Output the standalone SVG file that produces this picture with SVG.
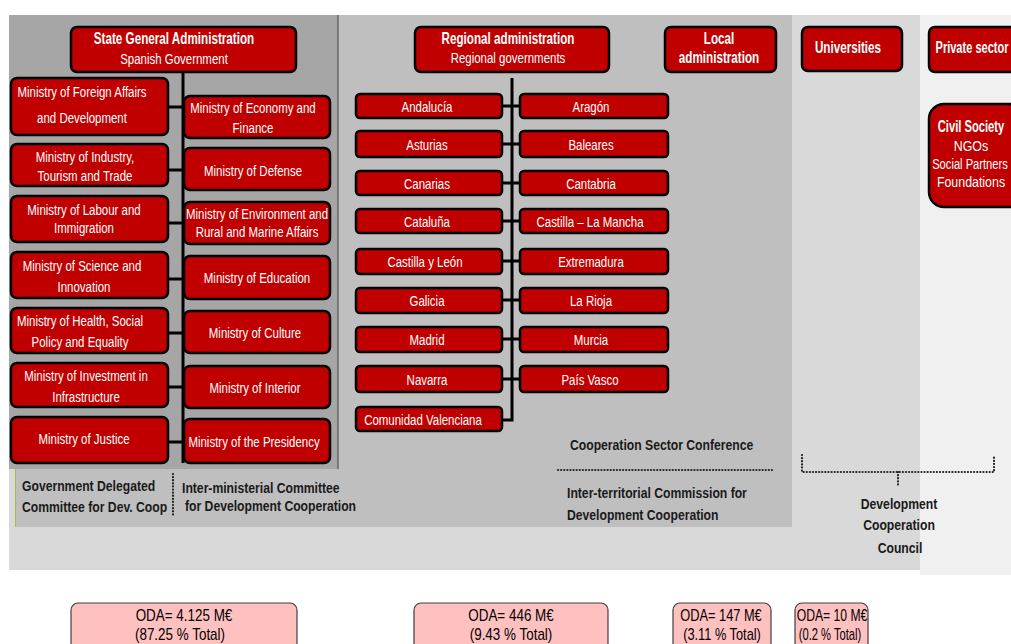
<svg xmlns="http://www.w3.org/2000/svg" width="1011" height="644" viewBox="0 0 1011 644">
<style>
.box{fill:#c00000;stroke:#000;stroke-width:2.5}
.oda{fill:#ffc0c0;stroke:#404040;stroke-width:1.2}
.t{font-family:"Liberation Sans Narrow","Liberation Sans",Arial,sans-serif;font-size:15.5px;fill:#fff;text-anchor:middle}
.h{font-family:"Liberation Sans Narrow","Liberation Sans",Arial,sans-serif;font-size:16px;font-weight:bold;fill:#fff;text-anchor:middle}
.b{font-family:"Liberation Sans",Arial,sans-serif;font-size:14px;font-weight:bold;fill:#1a1a1a}
.o{font-family:"Liberation Sans",Arial,sans-serif;font-size:16px;fill:#000;text-anchor:middle}
.ln{stroke:#000;stroke-width:3;fill:none}
.dot{stroke:#222;stroke-width:2.2;stroke-dasharray:0.1 3;stroke-linecap:round;fill:none}
</style>
<rect x="0" y="0" width="1011" height="644" fill="#fff"/>
<!-- backgrounds -->
<rect x="920" y="15" width="91" height="560" fill="#f0f0f0"/>
<rect x="9" y="15" width="911" height="555" fill="#d9d9d9"/>
<rect x="15" y="15" width="777" height="512" fill="#bfbfbf"/>
<rect x="9" y="15" width="329" height="454" fill="#a6a6a6"/>
<line x1="338" y1="15" x2="338" y2="469" stroke="#404040" stroke-width="1"/>
<line x1="15.5" y1="469" x2="15.5" y2="527" stroke="#a0c040" stroke-width="1"/>

<!-- connectors -->
<g id="connectors">
<line class="ln" x1="183" y1="72" x2="183" y2="463"/>
<line class="ln" x1="168" y1="107" x2="183" y2="107"/>
<line class="ln" x1="168" y1="170" x2="183" y2="170"/>
<line class="ln" x1="168" y1="223" x2="183" y2="223"/>
<line class="ln" x1="168" y1="279" x2="183" y2="279"/>
<line class="ln" x1="168" y1="333" x2="183" y2="333"/>
<line class="ln" x1="168" y1="387" x2="183" y2="387"/>
<line class="ln" x1="168" y1="442" x2="183" y2="442"/>
<path class="ln" d="M512 78 V420 H502"/>
<line class="ln" x1="502" y1="106" x2="520" y2="106"/>
<line class="ln" x1="502" y1="144" x2="520" y2="144"/>
<line class="ln" x1="502" y1="183" x2="520" y2="183"/>
<line class="ln" x1="502" y1="221" x2="520" y2="221"/>
<line class="ln" x1="502" y1="261" x2="520" y2="261"/>
<line class="ln" x1="502" y1="300" x2="520" y2="300"/>
<line class="ln" x1="502" y1="339" x2="520" y2="339"/>
<line class="ln" x1="502" y1="379" x2="520" y2="379"/>
<line class="dot" x1="173" y1="474" x2="173" y2="515"/>
<line class="dot" x1="558" y1="470" x2="772" y2="470"/>
<path class="dot" d="M802 455 V472 H994 V455 M898 472 V486"/>
</g>

<!-- State -->
<g id="state"><rect class="box" x="71" y="27" width="225" height="45" rx="6"/><text class="h" transform="translate(174,44) scale(0.73,1)">State General Administration</text><text class="t" transform="translate(174,64) scale(0.74,1)">Spanish Government</text></g>
<g id="m-foreign"><rect class="box" x="11" y="78" width="157" height="57" rx="6"/><text class="t" transform="translate(82,97) scale(0.74,1)">Ministry of Foreign Affairs</text><text class="t" transform="translate(82,123) scale(0.74,1)">and Development</text></g>
<g id="m-industry"><rect class="box" x="11" y="144" width="157" height="42" rx="6"/><text class="t" transform="translate(85,162) scale(0.74,1)">Ministry of Industry,</text><text class="t" transform="translate(85,181) scale(0.74,1)">Tourism and Trade</text></g>
<g id="m-labour"><rect class="box" x="11" y="196" width="157" height="46" rx="6"/><text class="t" transform="translate(84,215) scale(0.74,1)">Ministry of Labour and</text><text class="t" transform="translate(84,233) scale(0.74,1)">Immigration</text></g>
<g id="m-science"><rect class="box" x="11" y="252" width="157" height="46" rx="6"/><text class="t" transform="translate(82,271) scale(0.74,1)">Ministry of Science  and</text><text class="t" transform="translate(84,292) scale(0.74,1)">Innovation</text></g>
<g id="m-health"><rect class="box" x="11" y="308" width="157" height="45" rx="6"/><text class="t" transform="translate(80,326) scale(0.74,1)">Ministry of Health, Social</text><text class="t" transform="translate(80,347) scale(0.74,1)">Policy and Equality</text></g>
<g id="m-investment"><rect class="box" x="11" y="363" width="157" height="44" rx="6"/><text class="t" transform="translate(86,381) scale(0.74,1)">Ministry of Investment  in</text><text class="t" transform="translate(86,402) scale(0.74,1)">Infrastructure</text></g>
<g id="m-justice"><rect class="box" x="11" y="417" width="157" height="46" rx="6"/><text class="t" transform="translate(84,444) scale(0.74,1)">Ministry of Justice</text></g>
<g id="m-economy"><rect class="box" x="184" y="96" width="146" height="42" rx="6"/><text class="t" transform="translate(253,113) scale(0.74,1)">Ministry of Economy and</text><text class="t" transform="translate(253,133) scale(0.74,1)">Finance</text></g>
<g id="m-defense"><rect class="box" x="184" y="148" width="146" height="42" rx="6"/><text class="t" transform="translate(253,176) scale(0.74,1)">Ministry of Defense</text></g>
<g id="m-environment"><rect class="box" x="184" y="202" width="146" height="42" rx="6"/><text class="t" transform="translate(257,219) scale(0.74,1)">Ministry of Environment  and</text><text class="t" transform="translate(257,237) scale(0.74,1)">Rural and Marine Affairs</text></g>
<g id="m-education"><rect class="box" x="184" y="256" width="146" height="43" rx="6"/><text class="t" transform="translate(257,283) scale(0.74,1)">Ministry of Education</text></g>
<g id="m-culture"><rect class="box" x="184" y="311" width="146" height="42" rx="6"/><text class="t" transform="translate(255,338) scale(0.74,1)">Ministry of Culture</text></g>
<g id="m-interior"><rect class="box" x="184" y="366" width="146" height="42" rx="6"/><text class="t" transform="translate(255,393) scale(0.74,1)">Ministry of Interior</text></g>
<g id="m-presidency"><rect class="box" x="184" y="419" width="146" height="44" rx="6"/><text class="t" transform="translate(254,447) scale(0.74,1)">Ministry of the  Presidency</text></g>

<!-- Regional -->
<g id="regional"><rect class="box" x="415" y="27" width="194" height="45" rx="6"/><text class="h" transform="translate(508,44) scale(0.73,1)">Regional administration</text><text class="t" transform="translate(508,63) scale(0.74,1)">Regional governments</text></g>
<g id="local"><rect class="box" x="665" y="27" width="111" height="45" rx="6"/><text class="h" transform="translate(719,44) scale(0.73,1)">Local</text><text class="h" transform="translate(719,63) scale(0.73,1)">administration</text></g>
<g id="r-andalucia"><rect class="box" x="356" y="94" width="146" height="24" rx="4"/><text class="t" transform="translate(427,112) scale(0.74,1)">Andalucía</text></g>
<g id="r-asturias"><rect class="box" x="356" y="131" width="146" height="26" rx="4"/><text class="t" transform="translate(427,150) scale(0.74,1)">Asturias</text></g>
<g id="r-canarias"><rect class="box" x="356" y="171" width="146" height="24" rx="4"/><text class="t" transform="translate(427,189) scale(0.74,1)">Canarias</text></g>
<g id="r-cataluna"><rect class="box" x="356" y="209" width="146" height="24" rx="4"/><text class="t" transform="translate(427,227) scale(0.74,1)">Cataluña</text></g>
<g id="r-castillaleon"><rect class="box" x="356" y="249" width="146" height="25" rx="4"/><text class="t" transform="translate(425,267) scale(0.74,1)">Castilla  y León</text></g>
<g id="r-galicia"><rect class="box" x="356" y="288" width="146" height="25" rx="4"/><text class="t" transform="translate(427,306) scale(0.74,1)">Galicia</text></g>
<g id="r-madrid"><rect class="box" x="356" y="327" width="146" height="25" rx="4"/><text class="t" transform="translate(427,345) scale(0.74,1)">Madrid</text></g>
<g id="r-navarra"><rect class="box" x="356" y="366" width="146" height="26" rx="4"/><text class="t" transform="translate(427,385) scale(0.74,1)">Navarra</text></g>
<g id="r-valenciana"><rect class="box" x="356" y="407" width="146" height="24" rx="4"/><text class="t" transform="translate(423,425) scale(0.74,1)">Comunidad Valenciana</text></g>
<g id="r-aragon"><rect class="box" x="520" y="94" width="148" height="24" rx="4"/><text class="t" transform="translate(591,112) scale(0.74,1)">Aragón</text></g>
<g id="r-baleares"><rect class="box" x="520" y="131" width="148" height="26" rx="4"/><text class="t" transform="translate(591,150) scale(0.74,1)">Baleares</text></g>
<g id="r-cantabria"><rect class="box" x="520" y="171" width="148" height="24" rx="4"/><text class="t" transform="translate(591,189) scale(0.74,1)">Cantabria</text></g>
<g id="r-castillamancha"><rect class="box" x="520" y="209" width="148" height="24" rx="4"/><text class="t" transform="translate(590,227) scale(0.74,1)">Castilla  – La Mancha</text></g>
<g id="r-extremadura"><rect class="box" x="520" y="249" width="148" height="25" rx="4"/><text class="t" transform="translate(591,267) scale(0.74,1)">Extremadura</text></g>
<g id="r-larioja"><rect class="box" x="520" y="288" width="148" height="25" rx="4"/><text class="t" transform="translate(591,306) scale(0.74,1)">La Rioja</text></g>
<g id="r-murcia"><rect class="box" x="520" y="327" width="148" height="25" rx="4"/><text class="t" transform="translate(591,345) scale(0.74,1)">Murcia</text></g>
<g id="r-paisvasco"><rect class="box" x="520" y="366" width="148" height="26" rx="4"/><text class="t" transform="translate(590,385) scale(0.74,1)">País Vasco</text></g>

<!-- Others -->
<g id="universities"><rect class="box" x="802" y="27" width="100" height="44" rx="6"/><text class="h" transform="translate(848,53) scale(0.73,1)">Universities</text></g>
<g id="private"><rect class="box" x="929" y="27" width="95" height="45" rx="6"/><text class="h" transform="translate(972,53) scale(0.69,1)">Private sector</text></g>
<g id="civil"><rect class="box" x="929" y="104" width="95" height="103" rx="15"/><text class="h" transform="translate(971,132) scale(0.7,1)">Civil Society</text><text class="t" font-size="15" transform="translate(971,151) scale(0.8,1)">NGOs</text><text class="t" font-size="15" transform="translate(970,169) scale(0.72,1)">Social Partners</text><text class="t" font-size="15" transform="translate(971,187) scale(0.8,1)">Foundations</text></g>

<!-- committees -->
<g id="committees">
<text class="b" transform="translate(22,491) scale(0.87,1)">Government Delegated</text>
<text class="b" transform="translate(22,512) scale(0.87,1)">Committee for Dev. Coop</text>
<text class="b" transform="translate(182,493) scale(0.87,1)">Inter-ministerial Committee</text>
<text class="b" transform="translate(185,511) scale(0.87,1)">for Development Cooperation</text>
<text class="b" transform="translate(570,450) scale(0.87,1)">Cooperation Sector Conference</text>
<text class="b" transform="translate(567,498) scale(0.87,1)">Inter-territorial Commission for</text>
<text class="b" transform="translate(567,520) scale(0.87,1)">Development Cooperation</text>
<text class="b" text-anchor="middle" transform="translate(899,509) scale(0.87,1)">Development</text>
<text class="b" text-anchor="middle" transform="translate(899,530) scale(0.87,1)">Cooperation</text>
<text class="b" text-anchor="middle" transform="translate(900,553) scale(0.87,1)">Council</text>
</g>

<!-- ODA -->
<g id="oda1"><rect class="oda" x="71" y="603" width="226" height="50" rx="7"/><text class="o" transform="translate(184,621) scale(0.84,1)">ODA= 4.125 M€</text><text class="o" transform="translate(180,640) scale(0.84,1)">(87.25 % Total)</text></g>
<g id="oda2"><rect class="oda" x="414" y="603" width="194" height="50" rx="7"/><text class="o" transform="translate(511,621) scale(0.84,1)">ODA= 446 M€</text><text class="o" transform="translate(511,640) scale(0.84,1)">(9.43 % Total)</text></g>
<g id="oda3"><rect class="oda" x="673" y="603" width="98" height="50" rx="7"/><text class="o" transform="translate(721,621) scale(0.8,1)">ODA= 147 M€</text><text class="o" transform="translate(722,640) scale(0.8,1)">(3.11 % Total)</text></g>
<g id="oda4"><rect class="oda" x="795" y="603" width="73" height="50" rx="7"/><text class="o" transform="translate(832,621) scale(0.76,1)">ODA= 10 M€</text><text class="o" transform="translate(830,640) scale(0.7,1)">(0.2 % Total)</text></g>
</svg>
